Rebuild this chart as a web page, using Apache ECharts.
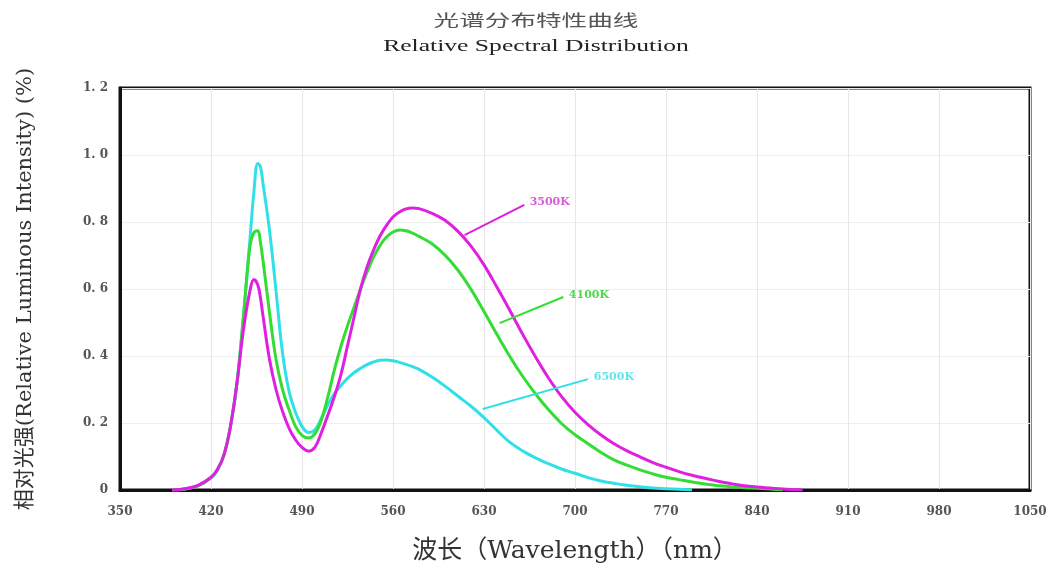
<!DOCTYPE html>
<html>
<head>
<meta charset="utf-8">
<script src="https://cdn.jsdelivr.net/npm/echarts@6/dist/echarts.min.js"></script>
<style>html,body{margin:0;padding:0;background:#fff;}#c{width:1059px;height:563px;}</style>
</head>
<body>
<div id="c"></div>
<script>
// Wavelength grid (nm)
var wavelengths = [390,400,410,420,425,430,435,440,445,450,453,456,458,460,465,470,475,480,485,490,495,500,505,510,515,520,525,530,535,540,545,550,555,560,565,570,575,580,590,600,610,620,630,640,650,660,670,680,690,700,710,720,730,740,750,760,770,780,790,800,810,820,830,840,850,860,870,875];
// 3500K (magenta)
var s3500 = [0,0.004,0.014,0.038,0.062,0.105,0.19,0.32,0.48,0.595,0.628,0.612,0.575,0.52,0.39,0.30,0.235,0.185,0.15,0.127,0.116,0.128,0.172,0.225,0.28,0.345,0.43,0.515,0.60,0.665,0.716,0.758,0.79,0.815,0.83,0.839,0.842,0.84,0.826,0.805,0.772,0.728,0.672,0.605,0.535,0.463,0.395,0.332,0.277,0.232,0.195,0.164,0.138,0.117,0.099,0.082,0.068,0.055,0.044,0.035,0.026,0.019,0.013,0.009,0.006,0.003,0.001,0];
// 4100K (green)
var s4100 = [0,0.003,0.012,0.036,0.06,0.105,0.19,0.32,0.52,0.73,0.768,0.774,0.74,0.685,0.53,0.39,0.30,0.24,0.19,0.163,0.155,0.168,0.21,0.28,0.36,0.43,0.49,0.545,0.60,0.65,0.695,0.73,0.755,0.77,0.776,0.774,0.767,0.757,0.735,0.701,0.656,0.599,0.533,0.464,0.398,0.338,0.285,0.238,0.197,0.165,0.138,0.112,0.09,0.074,0.06,0.048,0.038,0.031,0.024,0.018,0.013,0.01,0.007,0.005,0.003,0,null,null];
// 6500K (cyan)
var s6500 = [0,0.003,0.012,0.036,0.06,0.105,0.19,0.32,0.52,0.75,0.89,0.975,0.965,0.915,0.775,0.595,0.41,0.295,0.232,0.19,0.172,0.18,0.215,0.255,0.288,0.312,0.333,0.35,0.363,0.374,0.382,0.387,0.388,0.386,0.381,0.375,0.368,0.36,0.337,0.31,0.28,0.25,0.216,0.178,0.142,0.116,0.095,0.078,0.062,0.05,0.037,0.027,0.02,0.014,0.01,0.006,0.004,0.002,0,null,null,null,null,null,null,null,null,null];
var seriesNames = ['3500K','4100K','6500K'];
var seriesColors = ['#e020e0','#33dd33','#30e0e8'];
var labelColors = ['#d95cd9','#4cd94c','#5ee6ea'];
// Annotation leader lines [start, end] in data coords (wavelength, value)
var leader3500 = [[615,0.761],[661,0.851]];
var leader4100 = [[642,0.498],[691,0.576]];
var leader6500 = [[629,0.242],[710,0.331]];
var xTicks = [350,420,490,560,630,700,770,840,910,980,1050];
var yTicks = [0,0.2,0.4,0.6,0.8,1.0,1.2];
var titleText = '光谱分布特性曲线';
var subtitleText = 'Relative Spectral Distribution';
var xName = '波长（Wavelength）（nm）';
var yName = '相对光强(Relative Luminous Intensity) (%)';

function pairs(arr){ var out=[]; for(var i=0;i<wavelengths.length;i++){ if(arr[i]!==null) out.push([wavelengths[i],arr[i]]); } return out; }
var allSeries = [s3500,s4100,s6500];
var leaders = [leader3500,leader4100,leader6500];

var chart = echarts.init(document.getElementById('c'));
var wideSerif = '"DejaVu Serif","Noto Sans CJK SC",serif';
var series = allSeries.map(function(arr,i){
  return {
    name: seriesNames[i], type:'line', data: pairs(arr), showSymbol:false, smooth:0.4,
    lineStyle:{color:seriesColors[i], width:3}, itemStyle:{color:seriesColors[i]}, z: 3 - i,
    markLine:{
      silent:true, symbol:['none','none'], animation:false,
      lineStyle:{color:seriesColors[i], width:2, type:'solid'},
      label:{show:true, position:'end', formatter: seriesNames[i], color:labelColors[i], fontFamily:wideSerif, fontWeight:'bold', fontSize:11, distance:6},
      data:[[{coord:leaders[i][0]},{coord:leaders[i][1]}]]
    }
  };
});

chart.setOption({
  animation:false,
  backgroundColor:'#fff',
  graphic:[
    {type:'text', x:536, y:20, scaleX:1.6, style:{text:titleText, font:'16px "Noto Sans CJK SC", serif', fill:'#555', textAlign:'center', textVerticalAlign:'middle'}},
    {type:'text', x:536, y:47, scaleX:1.6, style:{text:subtitleText, font:'16px "Liberation Serif", serif', fill:'#222', textAlign:'center', textVerticalAlign:'middle'}}
  ],
  grid:{left:120, right:29, top:88, bottom:73, show:true, borderColor:'#111', borderWidth:3, backgroundColor:'#fff', containLabel:false, outerBoundsMode:'none'},
  xAxis:{
    type:'value', min:350, max:1050, interval:70,
    name:xName, nameLocation:'middle', nameGap:49,
    nameTextStyle:{fontFamily:wideSerif, fontSize:25, color:'#333'},
    axisLine:{show:true, lineStyle:{color:'#111', width:3}},
    axisTick:{show:false},
    axisLabel:{margin:16, fontFamily:wideSerif, fontSize:12, fontWeight:'bold', color:'#555', formatter:function(v){ return String(v); }},
    splitLine:{show:true, lineStyle:{color:'#e6e6e6', width:1}}
  },
  yAxis:{
    type:'value', min:0, max:1.2, interval:0.2,
    name:yName, nameLocation:'middle', nameGap:84, nameRotate:90,
    nameTextStyle:{fontFamily:wideSerif, fontSize:21, color:'#333'},
    axisLine:{show:true, lineStyle:{color:'#111', width:3}},
    axisTick:{show:false},
    axisLabel:{margin:12, fontFamily:wideSerif, fontSize:12, fontWeight:'bold', color:'#555',
      formatter:function(v){ return v===0 ? '0' : v.toFixed(1).replace('.', '. '); }},
    splitLine:{show:true, lineStyle:{color:'#eeeeee', width:1}}
  },
  series: series
});
</script>
</body>
</html>
